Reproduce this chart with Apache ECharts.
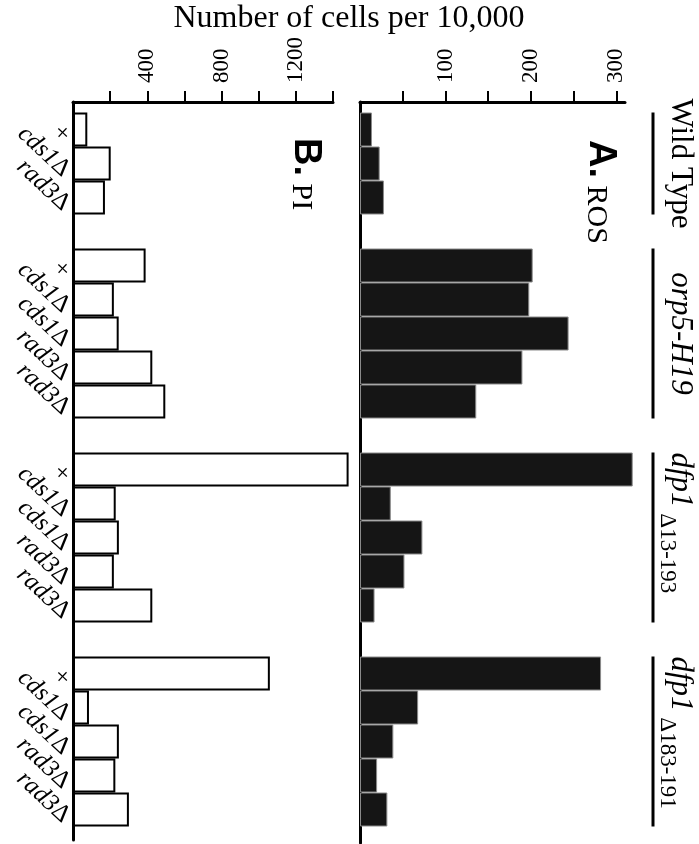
<!DOCTYPE html>
<html><head><meta charset="utf-8">
<script src="https://cdn.jsdelivr.net/npm/echarts@6/dist/echarts.min.js"></script>
<style>html,body{margin:0;padding:0;background:#fff}#c{width:699px;height:844px}</style>
</head><body><div id="c"></div>
<script>
// ---- data ----
const groupMain = ['Wild Type', 'orp5-H19', 'dfp1', 'dfp1'];
const groupSub = ['', '', 'Δ13-193', 'Δ183-191'];
const strainLabels = [
  ['+', 'cds1Δ', 'rad3Δ'],
  ['+', 'cds1Δ', 'cds1Δ', 'rad3Δ', 'rad3Δ'],
  ['+', 'cds1Δ', 'cds1Δ', 'rad3Δ', 'rad3Δ'],
  ['+', 'cds1Δ', 'cds1Δ', 'rad3Δ', 'rad3Δ']
];
const rosValues = [[14, 23, 28], [202, 198, 244, 190, 136], [319, 36, 73, 52, 17], [282, 68, 39, 20, 32]];
const piValues = [[77, 203, 172], [391, 220, 246, 427, 497], [1484, 230, 247, 220, 427], [1060, 86, 247, 228, 301]];
const rosTicks = [50, 100, 150, 200, 250, 300];
const rosTickLabels = [100, 200, 300];
const piTicks = [200, 400, 600, 800, 1000, 1200, 1400];
const piTickLabels = [400, 800, 1200];
const axisTitle = 'Number of cells per 10,000';
const panelA = ['A.', 'ROS'];
const panelB = ['B.', 'PI'];

// ---- build categories (one blank slot between groups) ----
const cats = [], labelMap = {}, rosData = [], piData = [];
strainLabels.forEach((labs, gi) => {
  if (gi > 0) { const k = 'gap' + gi; cats.push(k); labelMap[k] = ''; rosData.push('-'); piData.push('-'); }
  labs.forEach((l, bi) => {
    const k = 'g' + gi + 'b' + bi; cats.push(k); labelMap[k] = l;
    rosData.push(rosValues[gi][bi]); piData.push(piValues[gi][bi]);
  });
});

const SERIF = '"Liberation Serif", "Times New Roman", serif';
const SANS = '"Liberation Sans", Arial, sans-serif';

const chart = echarts.init(document.getElementById('c'), null, {renderer: 'canvas'});

const frameX = (gi, max, ticks, labs, intv) => ({
  gridIndex: gi, type: 'value', position: 'top', min: 0, max: max, interval: intv,
  axisLine: {show: true, onZero: false, lineStyle: {color: '#000', width: 3}},
  axisTick: {show: true, length: 11, customValues: ticks, lineStyle: {color: '#000', width: 2}},
  axisLabel: {show: true, customValues: labs, rotate: -90, margin: 19, color: '#000', fontSize: 23, fontFamily: SERIF,
              formatter: (v) => String(v)},
  splitLine: {show: false}
});
const frameY = (gi) => ({
  gridIndex: gi, type: 'value', min: 0, max: 1,
  axisLine: {show: true, onZero: false, lineStyle: {color: '#000', width: 3}},
  axisTick: {show: false}, axisLabel: {show: false}, splitLine: {show: false}
});
const dataX = (gi, max) => ({gridIndex: gi, type: 'value', min: 0, max: max, show: false});
const dataY = (gi, showLabels) => ({
  gridIndex: gi, type: 'category', data: cats, inverse: true,
  axisLine: {show: false}, axisTick: {show: false}, splitLine: {show: false},
  axisLabel: showLabels ? {
    show: true, interval: 0, rotate: -43, margin: -2, verticalAlign: 'top',
    formatter: (v) => {
      const l = labelMap[v];
      if (!l) return '';
      if (l === '+') return '{x|+}';
      return '{i|' + l.slice(0, -1) + '}{n|Δ}';
    },
    rich: {
      x: {fontFamily: SERIF, fontSize: 25, color: '#000'},
      i: {fontFamily: SERIF, fontStyle: 'italic', fontSize: 25, color: '#000'},
      n: {fontFamily: SERIF, fontSize: 25, color: '#000'}
    }
  } : {show: false}
});

const BAND_TOP = 112.5, BAND_H = 714;
chart.setOption({
  animation: false,
  backgroundColor: '#fff',
  grid: [
    {left: 73, top: 102, width: 260, height: 738},
    {left: 73, top: BAND_TOP, width: 260, height: BAND_H},
    {left: 360, top: 102, width: 265, height: 741},
    {left: 360, top: BAND_TOP, width: 265, height: BAND_H}
  ],
  xAxis: [frameX(0, 1400, piTicks, piTickLabels, 200), dataX(1, 1400), frameX(2, 310, rosTicks, rosTickLabels, 50), dataX(3, 310)],
  yAxis: [frameY(0), dataY(1, true), frameY(2), dataY(3, false)],
  series: [
    {type: 'bar', xAxisIndex: 1, yAxisIndex: 1, data: piData, barWidth: '100%', clip: false, silent: true,
     itemStyle: {color: '#fff', borderColor: '#000', borderWidth: 2}},
    {type: 'bar', xAxisIndex: 3, yAxisIndex: 3, data: rosData, barWidth: '100%', clip: false, silent: true,
     itemStyle: {color: '#151515', borderColor: '#8a8a8a', borderWidth: 1}}
  ]
});

// ---- annotations placed from the category scale ----
const px = (c) => chart.convertToPixel({yAxisIndex: 3}, c);
const half = (px(cats[1]) - px(cats[0])) / 2;
const graphics = [];
graphics.push({type: 'text', x: 349, y: 19, style: {text: axisTitle, fill: '#000', fontSize: 32, fontFamily: SERIF, align: 'center', verticalAlign: 'middle'}});
const panelTitle = (t, x, y) => ({
  type: 'text', x: x, y: y, rotation: -Math.PI / 2,
  style: {text: '{b|' + t[0] + '}{r| ' + t[1] + '}', align: 'left', verticalAlign: 'bottom',
    rich: {b: {fontFamily: SANS, fontWeight: 'bold', fontSize: 38, lineHeight: 38, verticalAlign: 'bottom', fill: '#000'},
           r: {fontFamily: SERIF, fontSize: 30, lineHeight: 30, verticalAlign: 'bottom', fill: '#000'}}}
});
graphics.push(panelTitle(panelA, 581, 140));
graphics.push(panelTitle(panelB, 286, 138));
strainLabels.forEach((labs, gi) => {
  const first = cats.indexOf('g' + gi + 'b0');
  const last = first + labs.length - 1;
  const y0 = px(cats[first]) - half, y1 = px(cats[last]) + half;
  graphics.push({type: 'line', shape: {x1: 653, y1: y0, x2: 653, y2: y1}, style: {stroke: '#000', lineWidth: 3}});
  const italic = gi > 0;
  const txt = '{m|' + groupMain[gi] + '}' + (groupSub[gi] ? '{s| ' + groupSub[gi] + '}' : '');
  graphics.push({
    type: 'text', x: 676, y: groupSub[gi] ? y0 : (y0 + y1) / 2, rotation: -Math.PI / 2,
    style: {text: txt, align: groupSub[gi] ? 'left' : 'center', verticalAlign: 'middle',
      rich: {m: {fontFamily: SERIF, fontStyle: italic ? 'italic' : 'normal', fontSize: 31, lineHeight: 40, verticalAlign: 'top', fill: '#000'},
             s: {fontFamily: SERIF, fontSize: 23, lineHeight: 23, verticalAlign: 'bottom', fill: '#000'}}}
  });
});
chart.setOption({graphic: graphics});
</script></body></html>
